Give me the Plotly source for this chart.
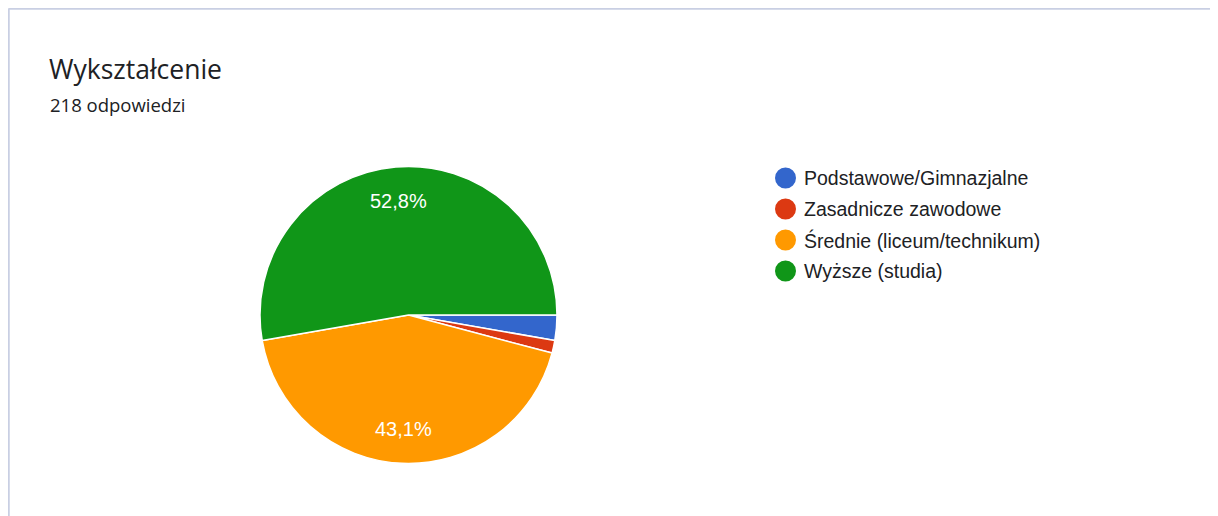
import math
import plotly.graph_objects as go

categories = ["Podstawowe/Gimnazjalne", "Zasadnicze zawodowe", "Średnie (liceum/technikum)", "Wyższe (studia)"]
counts = [6, 3, 94, 115]
colors = ["#3366cc", "#dc3912", "#ff9900", "#109618"]
title = "Wykształcenie"
subtitle = "218 odpowiedzi"

OFF = 8                      # default page body margin
W, H = 1218 - OFF, 516 - OFF


def px(x):
    return (x - OFF) / W


def py(y):
    return 1 - (y - OFF) / H


total = sum(counts)
cx, cy, r = 408.5, 315, 148.5

fig = go.Figure()
fig.add_trace(go.Pie(
    labels=categories, values=counts, sort=False, direction="clockwise", rotation=90,
    marker=dict(colors=colors, line=dict(color="white", width=1.5)),
    textinfo="none", showlegend=False, hoverinfo="label+percent",
    domain=dict(x=[px(cx - r), px(cx + r)], y=[py(cy + r), py(cy - r)]),
))

shapes = [
    dict(type="line", xref="paper", yref="paper", x0=px(8.5), x1=1, y0=py(8.5), y1=py(8.5),
         line=dict(color="#c9cfe3", width=2.5)),
    dict(type="line", xref="paper", yref="paper", x0=px(8.5), x1=px(8.5), y0=0, y1=py(8.5),
         line=dict(color="#c9cfe3", width=2.5)),
]
annotations = [
    dict(text=title, x=px(47), y=py(69), xref="paper", yref="paper", xanchor="left", yanchor="middle",
         showarrow=False, font=dict(size=26.5, color="#202124", family="Open Sans, sans-serif")),
    dict(text=subtitle, x=px(48), y=py(104), xref="paper", yref="paper", xanchor="left", yanchor="middle",
         showarrow=False, font=dict(size=18.5, color="#202124", family="Open Sans, sans-serif")),
]

# percentage labels inside large slices (mid-angle, 0.77 of radius)
start = 0.0
for c in counts:
    frac = c / total
    mid = (start + frac / 2) * 2 * math.pi   # clockwise from 3 o'clock
    start += frac
    if frac > 0.05:
        lx = cx + 0.77 * r * math.cos(mid)
        ly = cy + 0.77 * r * math.sin(mid)
        annotations.append(dict(text=("%.1f%%" % (100 * frac)).replace(".", ","), x=px(lx), y=py(ly),
                                xref="paper", yref="paper", xanchor="center", yanchor="middle", showarrow=False,
                                font=dict(size=20, color="white", family="Liberation Sans, Arial, sans-serif")))

leg_x, leg_y0, leg_dy, rad = 785.5, 178, 31, 10.5
for i, (cat, col) in enumerate(zip(categories, colors)):
    y = leg_y0 + i * leg_dy
    shapes.append(dict(type="circle", xref="paper", yref="paper",
                       x0=px(leg_x - rad), x1=px(leg_x + rad), y0=py(y + rad), y1=py(y - rad),
                       fillcolor=col, line=dict(width=0)))
    annotations.append(dict(text=cat, x=px(802), y=py(y), xref="paper", yref="paper", xanchor="left",
                            yanchor="middle", showarrow=False,
                            font=dict(size=19.5, color="#202124", family="Liberation Sans, Arial, sans-serif")))

fig.update_layout(
    width=W, height=H, margin=dict(l=0, r=0, t=0, b=0),
    paper_bgcolor="white", plot_bgcolor="white", separators=", ",
    shapes=shapes, annotations=annotations,
)
fig.write_html("out.html")
